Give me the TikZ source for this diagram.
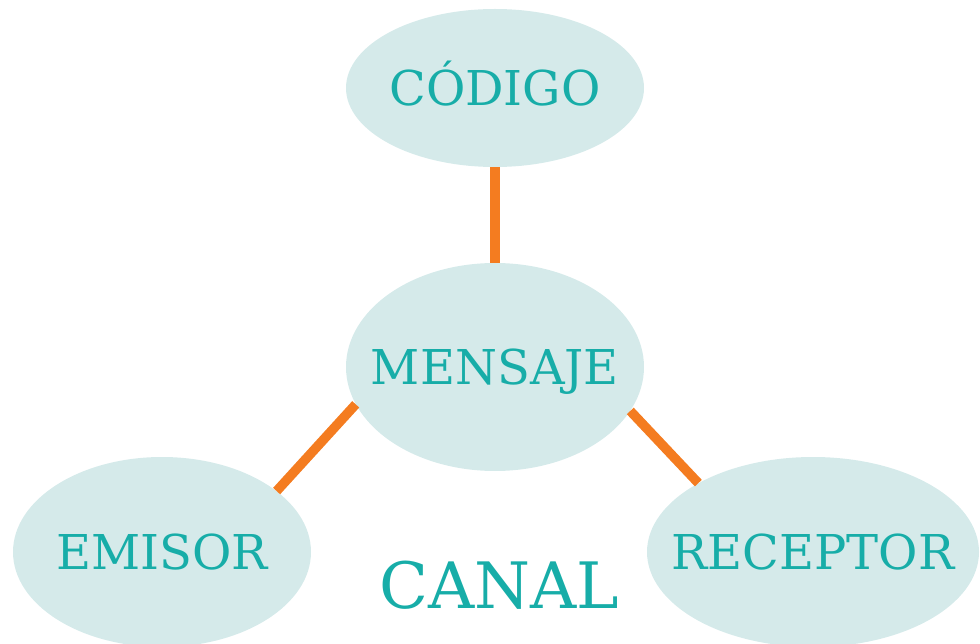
\documentclass[tikz,border=0pt]{standalone}
\usepackage{fontspec}
\setmainfont{DejaVu Serif}
\usetikzlibrary{shapes.geometric}
\definecolor{txtc}{HTML}{17ADA8}
\definecolor{fillc}{HTML}{D5EAEA}
\definecolor{linec}{HTML}{F47C20}
\tikzset{
  bubble/.style={ellipse, fill=fillc, text=txtc, inner sep=0pt,
    font=\fontsize{48}{48}\selectfont, text height=35pt, text depth=0pt},
  link/.style={draw=linec, line width=9.5pt}
}
\newcommand{\ztext}[1]{\makebox[0pt]{#1}}
\begin{document}
\begin{tikzpicture}[x=1pt,y=-1pt]
\useasboundingbox (0,0) rectangle (980,644);
\node[bubble, minimum width=298pt, minimum height=158pt] (codigo) at (495,88) {\ztext{CÓDIGO}};
\node[bubble, minimum width=298pt, minimum height=208pt] (mensaje) at (495,367) {\ztext{MENSAJE}};
\node[bubble, minimum width=298pt, minimum height=190pt] (emisor) at (162,552) {\ztext{EMISOR}};
\node[bubble, minimum width=332pt, minimum height=190pt] (receptor) at (813,552) {\ztext{RECEPTOR}};
\node[text=txtc, font=\fontsize{64}{64}\selectfont, anchor=base, inner sep=0pt] (canal) at (499,608) {CANAL};
\draw[link] (codigo.south) -- (mensaje.north);
\draw[link] (mensaje.195) -- (emisor.28);
\draw[link] (mensaje.342) -- (receptor.149);
\end{tikzpicture}
\end{document}
